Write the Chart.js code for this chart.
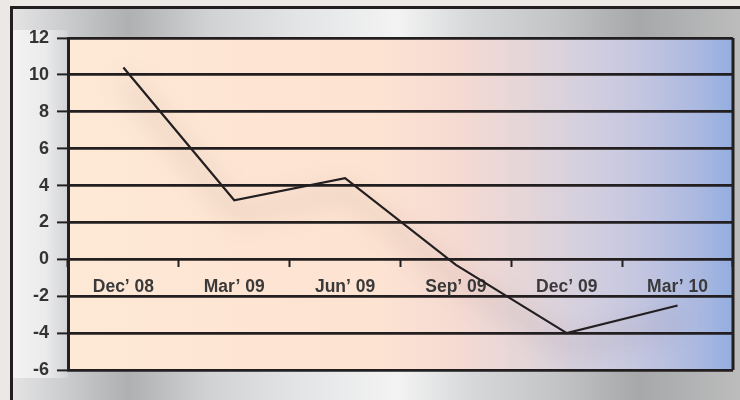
<!DOCTYPE html>
<html>
<head>
<meta charset="utf-8">
<script src="https://cdn.jsdelivr.net/npm/chart.js@4/dist/chart.umd.min.js"></script>
<style>
  html, body { margin: 0; padding: 0; background: #ebe8e5; }
  canvas { display: block; }
</style>
</head>
<body>
<canvas id="chart" width="740" height="400"></canvas>
<script>
// Quarterly series
const quarters = ["Dec’ 08", "Mar’ 09", "Jun’ 09", "Sep’ 09", "Dec’ 09", "Mar’ 10"];
const values = [10.4, 3.2, 4.4, -0.3, -4.0, -2.5];

// Value axis range
const yMin = -6;
const yMax = 12;
const yStep = 2;

const INK = '#231f20';
const FONT = '"Liberation Sans", Arial, sans-serif';

// Metallic frame, light margin, tinted plot panel and outline
const backdrop = {
  id: 'backdrop',
  beforeDraw(chart) {
    const { ctx, chartArea: a, width, height } = chart;
    ctx.save();
    ctx.fillStyle = '#ebe8e5';
    ctx.fillRect(0, 0, width, height);

    const silver = ctx.createLinearGradient(12, 0, 740, 0);
    silver.addColorStop(0.00, '#e4e4e5');
    silver.addColorStop(0.16, '#aeb0b2');
    silver.addColorStop(0.27, '#d0d2d3');
    silver.addColorStop(0.39, '#e2e4e5');
    silver.addColorStop(0.53, '#f3f3f3');
    silver.addColorStop(0.63, '#d6d8d9');
    silver.addColorStop(0.75, '#c2c4c6');
    silver.addColorStop(0.86, '#a6a8aa');
    silver.addColorStop(1.00, '#bcbcbc');
    ctx.fillStyle = silver;
    ctx.fillRect(11, 8, 740, 400);

    const margin = ctx.createLinearGradient(12, 0, a.left, 0);
    margin.addColorStop(0, '#f3f3f3');
    margin.addColorStop(0.6, '#ebebec');
    margin.addColorStop(1, '#d2d3d6');
    ctx.fillStyle = margin;
    ctx.fillRect(12, a.top - 8, a.left - 12, a.bottom - a.top + 16);

    const panel = ctx.createLinearGradient(a.left, 0, a.right, 0);
    const span = a.right - a.left;
    const stop = (x, c) => panel.addColorStop(Math.min(1, Math.max(0, (x - a.left) / span)), c);
    stop(68, '#fde9d6');
    stop(250, '#fee5d3');
    stop(380, '#fde3d2');
    stop(460, '#f5dad2');
    stop(520, '#e6d6d8');
    stop(580, '#d5d0de');
    stop(640, '#c4c6e0');
    stop(700, '#aab8e0');
    stop(733, '#92aee0');
    ctx.fillStyle = panel;
    ctx.fillRect(a.left, a.top, span, a.bottom - a.top);

    ctx.strokeStyle = INK;
    ctx.lineWidth = 3;
    ctx.strokeRect(11.5, 7.5, 760, 420);
    ctx.restore();
  },
  afterDraw(chart) {
    const { ctx, chartArea: a } = chart;
    ctx.save();
    ctx.strokeStyle = INK;
    ctx.lineWidth = 3;
    ctx.beginPath();
    ctx.moveTo(a.right, a.top);
    ctx.lineTo(a.right, a.bottom);
    ctx.stroke();
    ctx.restore();
  }
};

// Soft drop shadow beneath the series line
const lineShadow = {
  id: 'lineShadow',
  beforeDatasetsDraw(chart) {
    const ctx = chart.ctx;
    ctx.save();
    ctx.shadowColor = 'rgba(60, 35, 35, 0.6)';
    ctx.shadowBlur = 26;
    ctx.shadowOffsetX = 2;
    ctx.shadowOffsetY = 14;
  },
  afterDatasetsDraw(chart) {
    chart.ctx.restore();
  }
};

new Chart(document.getElementById('chart'), {
  type: 'line',
  data: {
    labels: quarters,
    datasets: [{
      data: values,
      borderColor: INK,
      borderWidth: 2.2,
      pointRadius: 0,
      tension: 0,
      fill: false
    }]
  },
  options: {
    responsive: false,
    devicePixelRatio: 1,
    animation: false,
    layout: { padding: { left: 0, top: 38, right: 7, bottom: 30 } },
    plugins: {
      legend: { display: false },
      tooltip: { enabled: false }
    },
    scales: {
      x: {
        type: 'category',
        position: { y: 0 },
        offset: true,
        grid: {
          offset: true,
          drawOnChartArea: false,
          drawTicks: true,
          tickLength: 8,
          tickWidth: 2,
          tickColor: INK
        },
        border: { display: false },
        ticks: {
          color: '#3a3a3a',
          font: { family: FONT, size: 17.5, weight: 'bold' },
          padding: 9,
          maxRotation: 0,
          autoSkip: false
        }
      },
      y: {
        min: yMin,
        max: yMax,
        afterFit(scale) { scale.width = 68; },
        grid: {
          color: INK,
          lineWidth: 2.8,
          drawTicks: true,
          tickLength: 11,
          tickColor: INK,
          tickWidth: 2
        },
        border: { display: true, color: INK, width: 3 },
        ticks: {
          stepSize: yStep,
          color: '#333333',
          font: { family: FONT, size: 18, weight: 'bold' },
          padding: 8
        }
      }
    }
  },
  plugins: [backdrop, lineShadow]
});
</script>
</body>
</html>
